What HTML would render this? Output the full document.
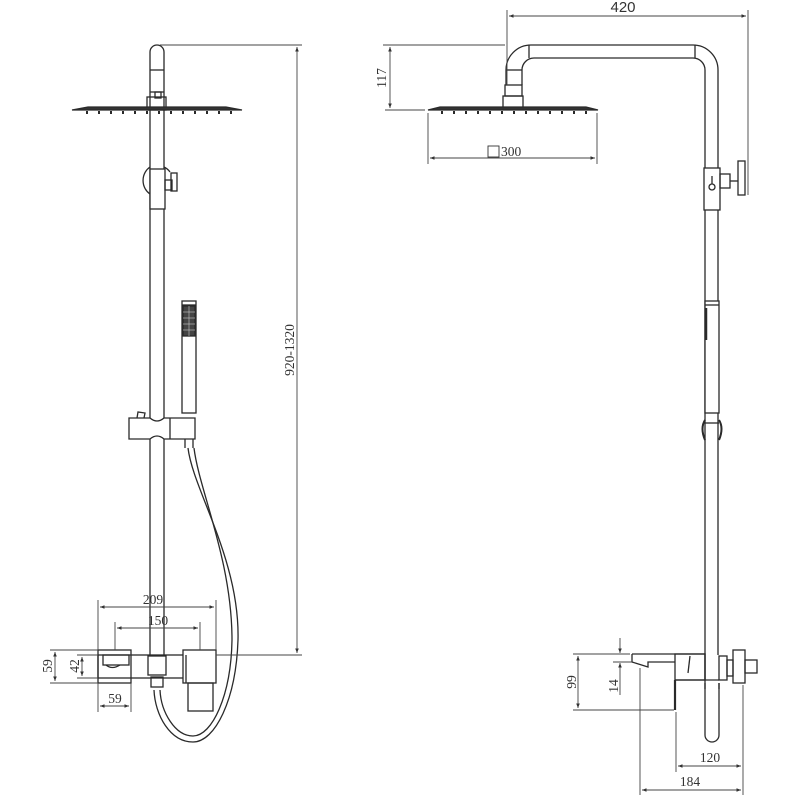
<!DOCTYPE html>
<html><head><meta charset="utf-8"><style>
html,body{margin:0;padding:0;background:#fff;}
svg{display:block;}
text{font-family:"Liberation Serif",serif;font-size:13.5px;fill:#333;}
</style></head><body>
<svg width="800" height="800" viewBox="0 0 800 800" xmlns="http://www.w3.org/2000/svg">
<defs>
<marker id="a" viewBox="0 0 10 10" refX="10" refY="5" markerWidth="7" markerHeight="5" orient="auto-start-reverse"><path d="M0,1 L10,5 L0,9 z" fill="#333"/></marker>
</defs>
<g fill="none" stroke="#2a2a2a" stroke-width="1.3">
<path d="M150,655 V52 A7,7 0 0 1 164,52 V655"/>
<line x1="150" y1="70" x2="164" y2="70"/>
<line x1="150" y1="92" x2="164" y2="92"/>
<rect x="155" y="92" width="6" height="6"/>
<rect x="147" y="97" width="19" height="13"/>
<path d="M72,110 L88,107 H226 L242,110 Z" fill="#333"/>
<g stroke-width="2">
<line x1="87" y1="111" x2="87" y2="114"/><line x1="99" y1="111" x2="99" y2="114"/><line x1="111" y1="111" x2="111" y2="114"/><line x1="123" y1="111" x2="123" y2="114"/><line x1="135" y1="111" x2="135" y2="114"/><line x1="147" y1="111" x2="147" y2="114"/><line x1="159" y1="111" x2="159" y2="114"/><line x1="171" y1="111" x2="171" y2="114"/><line x1="183" y1="111" x2="183" y2="114"/><line x1="195" y1="111" x2="195" y2="114"/><line x1="207" y1="111" x2="207" y2="114"/><line x1="219" y1="111" x2="219" y2="114"/><line x1="231" y1="111" x2="231" y2="114"/>
</g>
<path d="M150,167 A15,16 0 0 0 150,194"/>
<path d="M164,167 A15,16 0 0 1 170,172"/>
<rect x="150" y="169" width="15" height="40" fill="#fff"/>
<rect x="165" y="180" width="7" height="10"/>
<rect x="171" y="173" width="6" height="18"/>
<rect x="182" y="301" width="14" height="112"/>
<line x1="182" y1="305" x2="196" y2="305"/>
<rect x="183" y="306" width="12" height="30" fill="#444"/>
<g stroke="#ccc" stroke-width="0.6"><line x1="183" y1="312" x2="195" y2="312"/><line x1="183" y1="318" x2="195" y2="318"/><line x1="183" y1="324" x2="195" y2="324"/><line x1="183" y1="330" x2="195" y2="330"/><line x1="189" y1="306" x2="189" y2="336"/></g>
<path d="M129,418 H150 Q157,424 164,418 H195 V439 H164 Q157,433 150,439 H129 Z" fill="#fff"/>
<line x1="170" y1="418" x2="170" y2="439"/>
<path d="M137,418 L138,412 L145,413 L144,418"/>
<path d="M185,439 V448 M193,439 V448"/>
<path d="M188,448 C193,490 240,560 238,640 C236,700 215,742 193,742 C170,742 155,715 154,690"/>
<path d="M194,448 C199,490 232,560 232,640 C231,696 212,736 193,736 C175,736 161,712 160,690"/>
<rect x="98" y="650" width="33" height="33"/>
<rect x="98" y="655" width="88" height="23" fill="none"/>
<rect x="103" y="655" width="26" height="10"/>
<path d="M106,665 q6,5 14,0" />
<rect x="148" y="656" width="18" height="19"/>
<rect x="151" y="677" width="12" height="10"/>
<rect x="183" y="650" width="33" height="33" fill="#fff"/>
<rect x="188" y="683" width="25" height="28"/>
<line x1="186" y1="655" x2="186" y2="683"/>
<path d="M506,85 V70 A25,25 0 0 1 531,45 H693 A25,25 0 0 1 718,70 V655"/>
<path d="M522,85 V70 A12,12 0 0 1 534,58 H693 A12,12 0 0 1 705,70 V655"/>
<line x1="529" y1="45" x2="529" y2="58"/>
<line x1="695" y1="45" x2="695" y2="58"/>
<line x1="506" y1="70" x2="522" y2="70"/>
<rect x="505" y="85" width="17" height="11"/>
<rect x="503" y="96" width="20" height="12"/>
<path d="M428,110 L440,107 H586 L598,110 Z" fill="#333"/>
<g stroke-width="2">
<line x1="442" y1="111" x2="442" y2="114"/><line x1="454" y1="111" x2="454" y2="114"/><line x1="466" y1="111" x2="466" y2="114"/><line x1="478" y1="111" x2="478" y2="114"/><line x1="490" y1="111" x2="490" y2="114"/><line x1="502" y1="111" x2="502" y2="114"/><line x1="514" y1="111" x2="514" y2="114"/><line x1="526" y1="111" x2="526" y2="114"/><line x1="538" y1="111" x2="538" y2="114"/><line x1="550" y1="111" x2="550" y2="114"/><line x1="562" y1="111" x2="562" y2="114"/><line x1="574" y1="111" x2="574" y2="114"/><line x1="586" y1="111" x2="586" y2="114"/>
</g>
<rect x="704" y="168" width="16" height="42" fill="#fff"/>
<circle cx="712" cy="187" r="3"/>
<line x1="712" y1="176" x2="712" y2="184"/>
<rect x="720" y="174" width="10" height="14"/>
<rect x="738" y="161" width="7" height="34"/>
<line x1="730" y1="181" x2="738" y2="181"/>
<rect x="705" y="301" width="14" height="112" fill="#fff"/>
<line x1="705" y1="305" x2="719" y2="305"/>
<line x1="706" y1="308" x2="706" y2="340" stroke-width="2.5"/>
<path d="M705,420 q-5,8 0,20 M719,420 q5,8 0,20" stroke-width="2"/>
<line x1="705" y1="423" x2="719" y2="423"/>
<path d="M705,655 V735 A7,7 0 0 0 719,735 V683"/>
<path d="M632,654 H705 V680 H675"/>
<path d="M632,654 V662 L648,667 V662 L675,662"/>
<rect x="675" y="654" width="30" height="26"/>
<line x1="675" y1="680" x2="675" y2="710" stroke-width="2.2"/>
<path d="M690,656 L688,673"/>
<rect x="719" y="656" width="8" height="24"/>
<rect x="727" y="660" width="6" height="16"/>
<rect x="733" y="650" width="12" height="33"/>
<rect x="745" y="660" width="12" height="13"/>
<path d="M705,680 H719 M705,689 V683 M719,689 V683" />
</g>
<g fill="none" stroke="#444" stroke-width="0.9">
<line x1="160" y1="45" x2="302" y2="45"/>
<line x1="216" y1="655" x2="302" y2="655"/>
<line x1="297" y1="47" x2="297" y2="653" marker-start="url(#a)" marker-end="url(#a)"/>
<line x1="98" y1="600" x2="98" y2="650"/><line x1="216" y1="600" x2="216" y2="650"/>
<line x1="100" y1="607" x2="214" y2="607" marker-start="url(#a)" marker-end="url(#a)"/>
<line x1="115" y1="622" x2="115" y2="650"/><line x1="200" y1="622" x2="200" y2="650"/>
<line x1="117" y1="628" x2="198" y2="628" marker-start="url(#a)" marker-end="url(#a)"/>
<line x1="50" y1="650" x2="98" y2="650"/><line x1="50" y1="683" x2="98" y2="683"/>
<line x1="55" y1="652" x2="55" y2="681" marker-start="url(#a)" marker-end="url(#a)"/>
<line x1="77" y1="655" x2="98" y2="655"/><line x1="77" y1="678" x2="98" y2="678"/>
<line x1="82" y1="657" x2="82" y2="676" marker-start="url(#a)" marker-end="url(#a)"/>
<line x1="98" y1="683" x2="98" y2="712"/><line x1="131" y1="683" x2="131" y2="712"/>
<line x1="100" y1="706" x2="129" y2="706" marker-start="url(#a)" marker-end="url(#a)"/>
<line x1="507" y1="10" x2="507" y2="85"/><line x1="748" y1="10" x2="748" y2="195"/>
<line x1="509" y1="16" x2="746" y2="16" marker-start="url(#a)" marker-end="url(#a)"/>
<line x1="383" y1="45" x2="505" y2="45"/><line x1="385" y1="110" x2="425" y2="110"/>
<line x1="390" y1="47" x2="390" y2="108" marker-start="url(#a)" marker-end="url(#a)"/>
<line x1="428" y1="113" x2="428" y2="164"/><line x1="597" y1="113" x2="597" y2="164"/>
<line x1="430" y1="158" x2="595" y2="158" marker-start="url(#a)" marker-end="url(#a)"/>
<line x1="573" y1="654" x2="630" y2="654"/><line x1="573" y1="710" x2="674" y2="710"/>
<line x1="578" y1="656" x2="578" y2="708" marker-start="url(#a)" marker-end="url(#a)"/>
<line x1="613" y1="662" x2="632" y2="662"/>
<line x1="620" y1="638" x2="620" y2="653" marker-end="url(#a)"/>
<line x1="620" y1="695" x2="620" y2="663" marker-end="url(#a)"/>
<line x1="676" y1="712" x2="676" y2="772"/><line x1="743" y1="685" x2="743" y2="795"/>
<line x1="640" y1="668" x2="640" y2="795"/>
<line x1="678" y1="766" x2="741" y2="766" marker-start="url(#a)" marker-end="url(#a)"/>
<line x1="642" y1="790" x2="741" y2="790" marker-start="url(#a)" marker-end="url(#a)"/>
</g>
<rect x="488" y="146" width="11" height="11" fill="none" stroke="#333" stroke-width="0.9"/>
<text x="153" y="604" text-anchor="middle">209</text>
<text x="158" y="625" text-anchor="middle">150</text>
<text x="115" y="703" text-anchor="middle">59</text>
<text transform="translate(52,666) rotate(-90)" text-anchor="middle">59</text>
<text transform="translate(79,666) rotate(-90)" text-anchor="middle">42</text>
<text transform="translate(294,350) rotate(-90)" text-anchor="middle">920-1320</text>
<text x="623" y="12" text-anchor="middle" style="font-family:'Liberation Sans',sans-serif;font-size:15px;">420</text>
<text transform="translate(386,78) rotate(-90)" text-anchor="middle">117</text>
<text x="501" y="156">300</text>
<text transform="translate(576,682) rotate(-90)" text-anchor="middle">99</text>
<text transform="translate(618,686) rotate(-90)" text-anchor="middle">14</text>
<text x="710" y="762" text-anchor="middle">120</text>
<text x="690" y="786" text-anchor="middle">184</text>
</svg>
</body></html>
